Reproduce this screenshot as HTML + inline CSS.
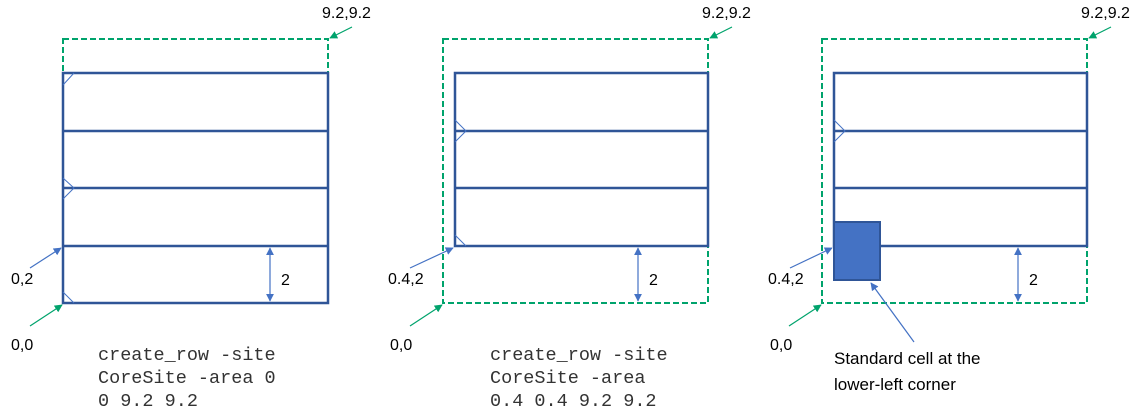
<!DOCTYPE html>
<html><head><meta charset="utf-8"><style>
html,body{margin:0;padding:0;background:#fff;}
svg{display:block;}
text{font-family:"Liberation Sans",sans-serif;font-size:16px;fill:#000;}
.mono{font-family:"Liberation Mono",monospace;font-size:18.5px;fill:#333;}
</style></head><body>
<svg width="1140" height="418" viewBox="0 0 1140 418" xmlns="http://www.w3.org/2000/svg">
<defs>
<marker id="ag" viewBox="0 0 10 10" refX="9" refY="5" markerWidth="8" markerHeight="8" markerUnits="userSpaceOnUse" orient="auto"><path d="M0,0L10,5L0,10z" fill="#00a36c"/></marker>
<marker id="ab" viewBox="0 0 10 10" refX="9" refY="5" markerWidth="8" markerHeight="8" markerUnits="userSpaceOnUse" orient="auto"><path d="M0,0L10,5L0,10z" fill="#4472c4"/></marker>
<marker id="abs" viewBox="0 0 10 10" refX="9" refY="5" markerWidth="8" markerHeight="8" markerUnits="userSpaceOnUse" orient="auto-start-reverse"><path d="M0,0L10,5L0,10z" fill="#4472c4"/></marker>
</defs>

<!-- Panel 1 -->
<g>
<rect x="63" y="39" width="265" height="264" fill="none" stroke="#00a36c" stroke-width="2" stroke-dasharray="6,3"/>
<g stroke="#2f5597" stroke-width="2.5" fill="none">
<rect x="63" y="73" width="265" height="230" fill="#fff"/>
<line x1="63" y1="131" x2="328" y2="131"/><line x1="63" y1="188" x2="328" y2="188"/><line x1="63" y1="246" x2="328" y2="246"/>
</g>
<g stroke="#4472c4" stroke-width="1" fill="none">
<polyline points="63,85 74,73"/><polyline points="63,178 74,188 63,199"/><polyline points="63,292 74,303"/>
</g>
<line x1="270" y1="248" x2="270" y2="301" stroke="#4472c4" stroke-width="1.2" marker-start="url(#abs)" marker-end="url(#abs)"/>
<text x="281" y="285">2</text>
<line x1="30" y1="268" x2="61" y2="248" stroke="#4472c4" stroke-width="1.2" marker-end="url(#ab)"/>
<text x="11" y="284">0,2</text>
<line x1="30" y1="326" x2="62" y2="305" stroke="#00a36c" stroke-width="1.2" marker-end="url(#ag)"/>
<text x="11" y="350">0,0</text>
<line x1="352" y1="27" x2="330" y2="38" stroke="#00a36c" stroke-width="1.2" marker-end="url(#ag)"/>
<text x="322" y="18">9.2,9.2</text>
<text class="mono"><tspan x="98" y="360">create_row -site</tspan><tspan x="98" y="383">CoreSite -area 0</tspan><tspan x="98" y="406">0 9.2 9.2</tspan></text>
</g>

<!-- Panel 2 -->
<g>
<rect x="443" y="39" width="265" height="264" fill="none" stroke="#00a36c" stroke-width="2" stroke-dasharray="6,3"/>
<g stroke="#2f5597" stroke-width="2.5" fill="none">
<rect x="455" y="73" width="253" height="173" fill="#fff"/>
<line x1="455" y1="131" x2="708" y2="131"/><line x1="455" y1="188" x2="708" y2="188"/>
</g>
<g stroke="#4472c4" stroke-width="1" fill="none">
<polyline points="455,120 466,131 455,142"/><polyline points="455,235 466,246"/>
</g>
<line x1="638" y1="248" x2="638" y2="301" stroke="#4472c4" stroke-width="1.2" marker-start="url(#abs)" marker-end="url(#abs)"/>
<text x="649" y="285">2</text>
<line x1="410" y1="268" x2="453" y2="248" stroke="#4472c4" stroke-width="1.2" marker-end="url(#ab)"/>
<text x="388" y="284">0.4,2</text>
<line x1="410" y1="326" x2="442" y2="305" stroke="#00a36c" stroke-width="1.2" marker-end="url(#ag)"/>
<text x="390" y="350">0,0</text>
<line x1="732" y1="27" x2="710" y2="38" stroke="#00a36c" stroke-width="1.2" marker-end="url(#ag)"/>
<text x="702" y="18">9.2,9.2</text>
<text class="mono"><tspan x="490" y="360">create_row -site</tspan><tspan x="490" y="383">CoreSite -area</tspan><tspan x="490" y="406">0.4 0.4 9.2 9.2</tspan></text>
</g>

<!-- Panel 3 -->
<g>
<rect x="822" y="39" width="265" height="264" fill="none" stroke="#00a36c" stroke-width="2" stroke-dasharray="6,3"/>
<g stroke="#2f5597" stroke-width="2.5" fill="none">
<rect x="834" y="73" width="253" height="173" fill="#fff"/>
<line x1="834" y1="131" x2="1087" y2="131"/><line x1="834" y1="188" x2="1087" y2="188"/>
</g>
<polyline points="834,120 845,131 834,142" stroke="#4472c4" stroke-width="1" fill="none"/>
<rect x="834" y="222" width="46" height="58" fill="#4472c4" stroke="#2f5597" stroke-width="2"/>
<line x1="1018" y1="248" x2="1018" y2="301" stroke="#4472c4" stroke-width="1.2" marker-start="url(#abs)" marker-end="url(#abs)"/>
<text x="1029" y="285">2</text>
<line x1="790" y1="268" x2="832" y2="248" stroke="#4472c4" stroke-width="1.2" marker-end="url(#ab)"/>
<text x="768" y="284">0.4,2</text>
<line x1="789" y1="326" x2="821" y2="305" stroke="#00a36c" stroke-width="1.2" marker-end="url(#ag)"/>
<text x="770" y="350">0,0</text>
<line x1="1111" y1="27" x2="1089" y2="38" stroke="#00a36c" stroke-width="1.2" marker-end="url(#ag)"/>
<text x="1081" y="18">9.2,9.2</text>
<line x1="914" y1="342" x2="871" y2="283" stroke="#4472c4" stroke-width="1.2" marker-end="url(#ab)"/>
<text style="font-size:17px"><tspan x="834" y="364">Standard cell at the</tspan><tspan x="834" y="390">lower-left corner</tspan></text>
</g>
</svg>
</body></html>
